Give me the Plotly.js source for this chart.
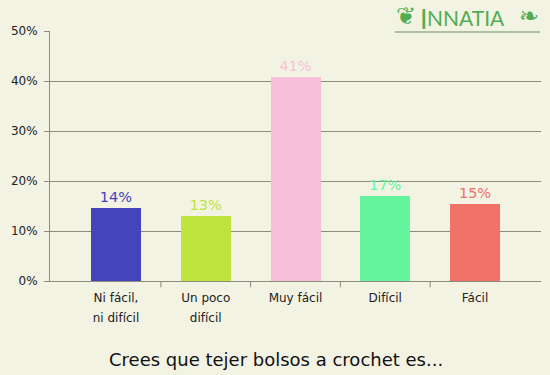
<!DOCTYPE html>
<html><head><meta charset="utf-8">
<script src="https://cdn.plot.ly/plotly-3.0.1.min.js"></script>
<style>body{margin:0;background:#f3f3e4}</style>
</head><body><div id="chart" style="width:550px;height:375px"></div>
<script>
var categories = ["Ni fácil, ni difícil", "Un poco difícil", "Muy fácil", "Difícil", "Fácil"];
var labelLine1 = ["Ni fácil,", "Un poco", "Muy fácil", "Difícil", "Fácil"];
var labelLine2 = ["ni difícil", "difícil", "", "", ""];
var values = [14.6, 13, 40.9, 17, 15.4];
var valueLabels = ["14%", "13%", "41%", "17%", "15%"];
var colors = ["#4444bb", "#bee53e", "#f8c0d8", "#66f49e", "#ef7167"];
var yTicks = [0, 10, 20, 30, 40, 50];
var yTickText = ["0%", "10%", "20%", "30%", "40%", "50%"];
var chartTitle = "Crees que tejer bolsos a crochet es...";

var idx = categories.map(function(_, i){ return i; });
var trace = {
  type: "bar", x: idx, y: values, width: 0.557,
  marker: {color: colors, line: {width: 0}},
  text: valueLabels, textposition: "outside", cliponaxis: false,
  textfont: {family: "DejaVu Sans, Verdana, sans-serif", size: 14.5, color: colors},
  hoverinfo: "none"
};
var dummy = {type: "scatter", x: idx, y: values, xaxis: "x2", mode: "none", hoverinfo: "none", showlegend: false};
var grid = "#8c8c7e";
var green = "#52ad52";
var layout = {
  width: 550, height: 375,
  margin: {l: 50, r: 9, t: 31, b: 94},
  paper_bgcolor: "#f3f3e4", plot_bgcolor: "#f3f3e4",
  showlegend: false, bargap: 0,
  font: {family: "DejaVu Sans, Verdana, sans-serif", color: "#222"},
  xaxis: {
    range: [-0.735, 4.735], tickmode: "array", tickvals: idx, ticktext: labelLine1,
    ticks: "", showgrid: false, zeroline: false, showline: true, linecolor: grid, linewidth: 1,
    tickfont: {size: 12, color: "#222"}, ticklabelstandoff: 6, fixedrange: true
  },
  xaxis2: {
    overlaying: "x", side: "bottom", anchor: "y", range: [-0.735, 4.735],
    tickmode: "array", tickvals: idx, ticktext: labelLine2, ticks: "",
    showgrid: false, zeroline: false, showline: false,
    tickfont: {size: 12, color: "#222"}, ticklabelstandoff: 28
  },
  yaxis: {
    range: [0, 50], tickmode: "array", tickvals: yTicks, ticktext: yTickText,
    ticks: "outside", ticklen: 5, tickcolor: grid, tickwidth: 1,
    showgrid: true, gridcolor: grid, gridwidth: 1, zeroline: false,
    showline: true, linecolor: grid, linewidth: 1, ticklabelstandoff: 4,
    tickfont: {size: 12, color: "#222"}, fixedrange: true
  },
  shapes: [0.5, 1.5, 2.5, 3.5].map(function(b){
    return {type: "line", xref: "x", yref: "paper", x0: b, x1: b, y0: 0, y1: -0.025,
            line: {color: grid, width: 1}};
  }).concat([
    {type: "line", xref: "paper", yref: "paper", x0: 0.7026, x1: 0.998, y0: 0.996, y1: 0.996,
     line: {color: "#6a8a60", width: 1}}
  ]),
  annotations: [
    {text: chartTitle, xref: "paper", yref: "paper", x: 0.46, y: -0.312, xanchor: "center", yanchor: "middle",
     showarrow: false, font: {size: 18, color: "#111"}},
    {text: "I", xref: "paper", yref: "paper",
     x: 0.75, y: 1.124, xanchor: "left", yanchor: "top", showarrow: false,
     font: {family: "Lato, sans-serif", size: 27, color: green, weight: 400}},
    {text: "NNATIA", xref: "paper", yref: "paper",
     x: 0.764, y: 0.996, xanchor: "left", yanchor: "bottom", showarrow: false,
     font: {family: "Lato, sans-serif", size: 21, color: green, weight: 400}},
    {text: "❦", xref: "paper", yref: "paper", x: 0.7, y: 0.996, xanchor: "left", yanchor: "bottom",
     showarrow: false, font: {size: 24, color: green}},
    {text: "❧", xref: "paper", yref: "paper", x: 1.0, y: 0.996, xanchor: "right", yanchor: "bottom",
     showarrow: false, font: {size: 24, color: green}}
  ]
};
Plotly.newPlot("chart", [trace, dummy], layout, {displayModeBar: false, staticPlot: true});
</script></body></html>
